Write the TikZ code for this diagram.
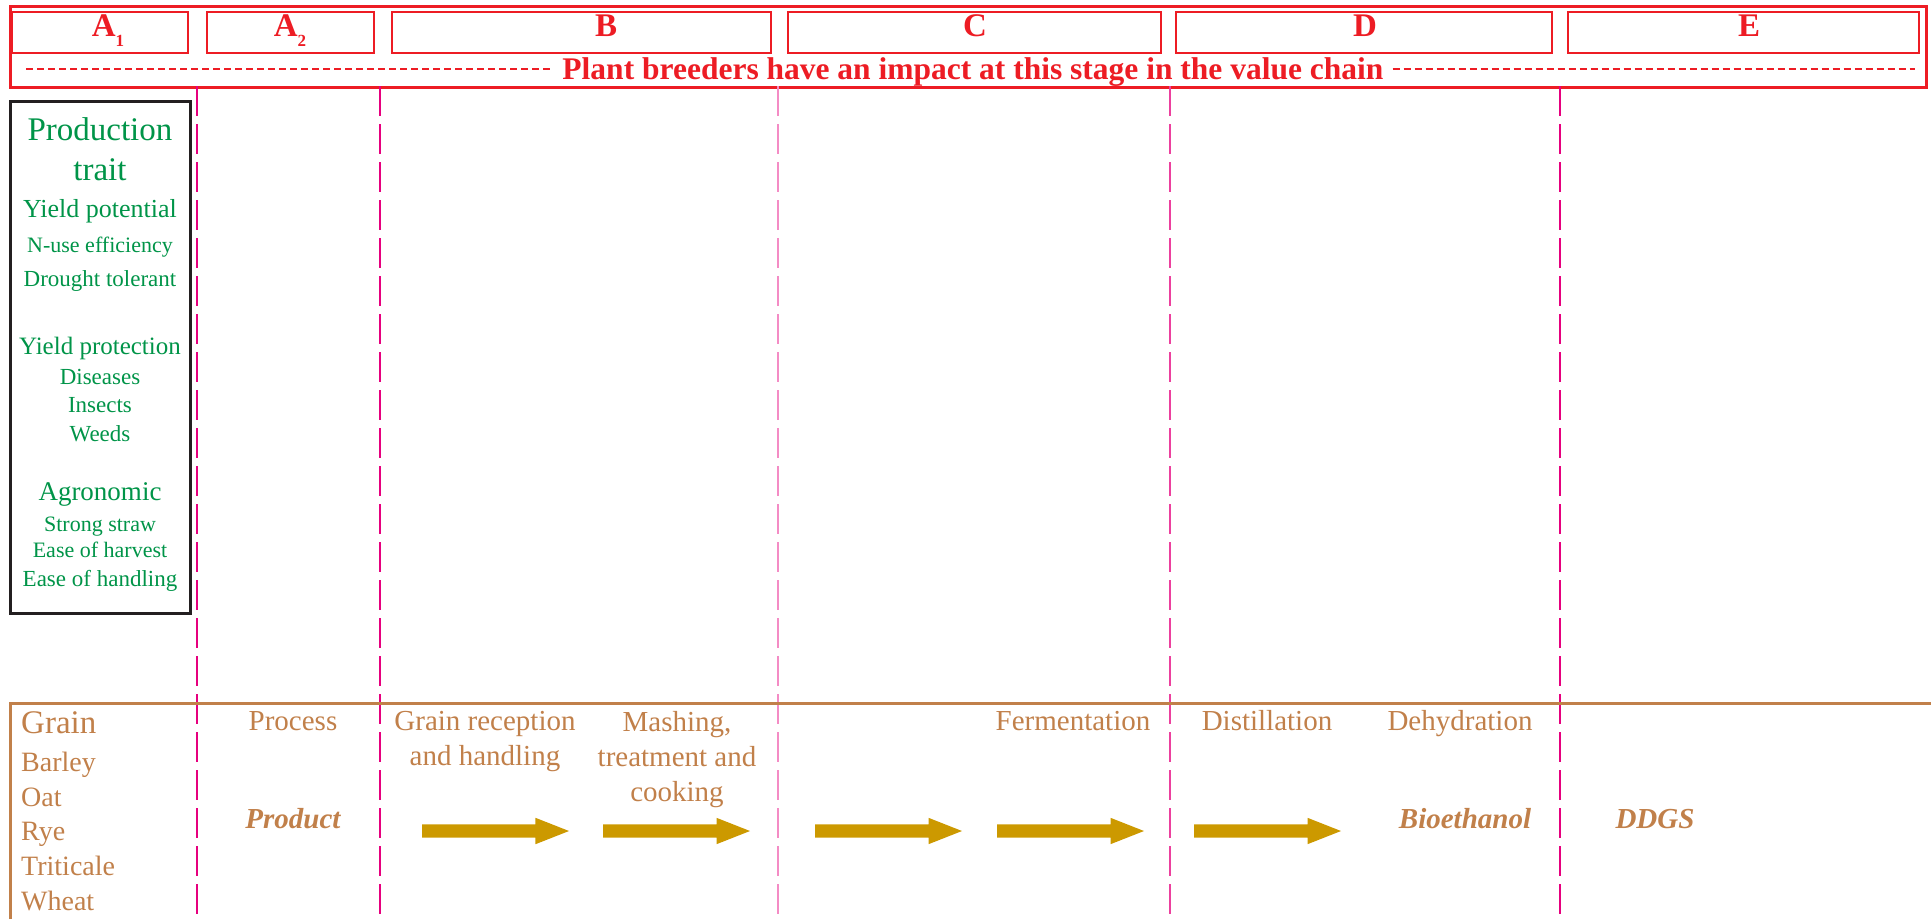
\documentclass[tikz,border=0pt]{standalone}
\usepackage{fontspec}
\setmainfont{Liberation Serif}
\usepackage{xcolor}
\usepackage{tikz}
\usetikzlibrary{arrows.meta,shapes.arrows,positioning}

\definecolor{chainred}{RGB}{237,28,36}
\definecolor{stagepink}{RGB}{230,0,126}
\definecolor{traitgreen}{RGB}{0,148,72}
\definecolor{grainbrown}{RGB}{193,128,74}
\definecolor{arrowgold}{RGB}{204,153,0}
\definecolor{boxblack}{RGB}{35,31,32}

\newcommand{\fsz}[1]{\fontsize{#1}{#1}\selectfont}
\newcommand{\stagesub}[1]{\raisebox{-10pt}{\fsz{17}#1}}

\begin{document}
\begin{tikzpicture}[x=1pt, y=-1pt,
    stagebox/.style={draw=chainred,line width=2.5pt,minimum height=41pt,inner sep=0pt},
    stageletter/.style={text=chainred,font=\fsz{33}\bfseries,inner sep=0pt,anchor=base},
    stageline/.style={line width=2.7pt,dash pattern=on 30pt off 8pt},
    traittext/.style={text=traitgreen,anchor=base,inner sep=0pt},
    graintext/.style={text=grainbrown,anchor=base west,inner sep=0pt,font=\fsz{28}},
    procstep/.style={text=grainbrown,anchor=base,inner sep=0pt,font=\fontsize{29}{35}\selectfont,align=center},
    product/.style={text=grainbrown,anchor=base,inner sep=0pt,font=\fsz{29}\bfseries\itshape},
    flowarrow/.style={single arrow,fill=arrowgold,minimum height=147pt,text height=6.5pt,text depth=6.5pt,
      text width=0pt,single arrow head extend=6.5pt,single arrow tip angle=43,inner sep=0pt}]
  \useasboundingbox (0,0) rectangle (1931,919);

  % stage header
  \draw[chainred,line width=3pt] (10,6) rectangle (1926,87);
  \node[stagebox,minimum width=176pt] (boxA1) at (100,32.5) {};
  \node[stagebox,minimum width=167pt] (boxA2) at (290.5,32.5) {};
  \node[stagebox,minimum width=379pt] (boxB) at (581.5,32.5) {};
  \node[stagebox,minimum width=373pt] (boxC) at (974.5,32.5) {};
  \node[stagebox,minimum width=376pt] (boxD) at (1364,32.5) {};
  \node[stagebox,minimum width=351pt] (boxE) at (1743.5,32.5) {};
  \node[stageletter] (lblA1) at (108,36) {A\stagesub{1}};
  \node[stageletter] (lblA2) at (290,36) {A\stagesub{2}};
  \node[stageletter] (lblB) at (606,36) {B};
  \node[stageletter] (lblC) at (975,36) {C};
  \node[stageletter] (lblD) at (1365,36) {D};
  \node[stageletter] (lblE) at (1749,36) {E};

  \node[text=chainred,font=\fsz{31.5}\bfseries,inner xsep=9pt,inner ysep=0pt] (title) at (973,72)
    {Plant breeders have an impact at this stage in the value chain};
  \coordinate (dashL) at (26,69);
  \coordinate (dashR) at (1915,69);
  \draw[chainred,line width=2.5pt,dash pattern=on 7pt off 4pt] (dashL) -- (dashL -| title.west)
    (dashR -| title.east) -- (dashR);

  % stage borders
  \foreach \x/\c in {197/stagepink,380/stagepink,778/stagepink!45,1170/stagepink!75,1560/stagepink}
    \draw[stageline,draw=\c] (\x,86) -- (\x,919);

  % production traits
  \draw[boxblack,line width=3pt] (10,101) rectangle (190,613);
  \foreach \nm/\yy/\fs/\txt in {prod/140/33/Production, trt/180/33/trait, ypot/217/26/Yield potential,
      nuse/252/22/N-use efficiency, drought/286/23/Drought tolerant, yprot/354/25/Yield protection,
      dis/384/23/Diseases, ins/412/23/Insects, weeds/441/23/Weeds, agro/500/27/Agronomic,
      straw/531/22/Strong straw, harvest/557/22/Ease of harvest, handling/586/23/Ease of handling}
    \node[traittext,font=\fsz{\fs}] (\nm) at (100,\yy) {\txt};

  % grain row
  \draw[grainbrown,line width=3pt] (10,919) -- (10,703) -- (1931,703);
  \node[graintext,font=\fsz{33}] (grain) at (21,733) {Grain};
  \foreach \nm/\yy in {Barley/771, Oat/806, Rye/840, Triticale/875, Wheat/910}
    \node[graintext] (\nm) at (21,\yy) {\nm};

  \node[procstep] (process) at (293,730) {Process};
  \node[procstep] (reception) at (485,765) {Grain reception\\and handling};
  \node[procstep] (mashing) at (677,801) {Mashing,\\treatment and\\cooking};
  \node[procstep] (ferment) at (1073,730) {Fermentation};
  \node[procstep] (distil) at (1267,730) {Distillation};
  \node[procstep] (dehyd) at (1460,730) {Dehydration};

  \node[product] (product) at (293,828) {Product};
  \node[product] (bioeth) at (1465,828) {Bioethanol};
  \node[product] (ddgs) at (1655,828) {DDGS};

  \node[flowarrow] (flow1) at (487,831) {};
  \node[flowarrow] (flow2) at (668,831) {};
  \node[flowarrow] (flow3) at (880,831) {};
  \node[flowarrow] (flow4) at (1062,831) {};
  \node[flowarrow] (flow5) at (1259,831) {};
\end{tikzpicture}
\end{document}
